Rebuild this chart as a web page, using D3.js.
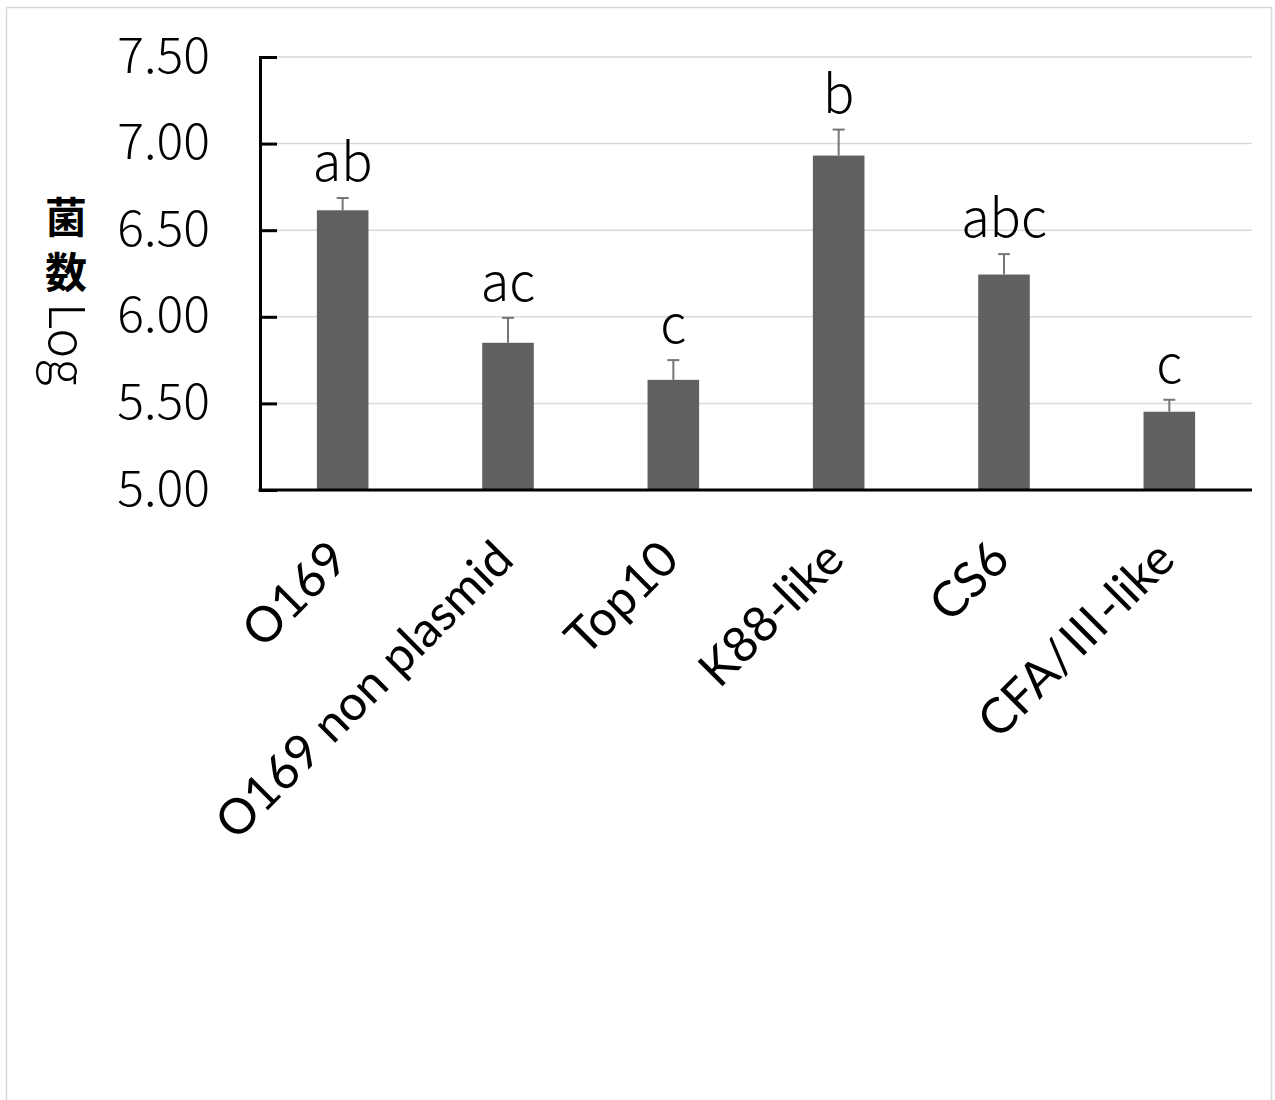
<!DOCTYPE html>
<html>
<head>
<meta charset="utf-8">
<script src="https://cdn.jsdelivr.net/npm/d3@7"></script>
<style>
  html, body { margin: 0; padding: 0; background: #fff; }
  svg { display: block; }
</style>
</head>
<body>
<svg id="chart" width="1275" height="1100"></svg>
<script>
// Strains tested
const categories = ["O169", "O169 non plasmid", "Top10", "K88-like", "CS6", "CFA/Ⅲ-like"];
// Mean bacterial count (log)
const means = [6.615, 5.850, 5.636, 6.931, 6.244, 5.452];
// Error (upper arm)
const errors = [0.071, 0.144, 0.114, 0.150, 0.118, 0.069];
// Significance letters
const letters = ["ab", "ac", "c", "b", "abc", "c"];
// Y axis ticks
const yTicks = [5.0, 5.5, 6.0, 6.5, 7.0, 7.5];

const svg = d3.select("#chart");
const thinFont = "'Noto Sans CJK JP', 'Noto Sans', sans-serif";
const labelFont = "Lato, 'Noto Sans CJK JP', sans-serif";

// outer chart frame
svg.append("rect")
  .attr("x", 6.5).attr("y", 7.5)
  .attr("width", 1265).attr("height", 1120)
  .attr("fill", "#fff")
  .attr("stroke", "#d9d9d9").attr("stroke-width", 1.5);

const plot = { left: 260, right: 1252, top: 57, bottom: 490 };

const x = d3.scaleBand()
  .domain(categories)
  .range([plot.left, plot.right])
  .paddingInner(0.688)
  .paddingOuter(0.344);

const y = d3.scaleLinear()
  .domain([5.0, 7.5])
  .range([plot.bottom, plot.top]);

// horizontal gridlines
svg.append("g")
  .selectAll("line")
  .data(yTicks.slice(1))
  .join("line")
  .attr("x1", plot.left).attr("x2", plot.right)
  .attr("y1", d => y(d)).attr("y2", d => y(d))
  .attr("stroke", "#d9d9d9").attr("stroke-width", 1.5);

// bars
svg.append("g")
  .selectAll("rect")
  .data(categories)
  .join("rect")
  .attr("x", d => x(d))
  .attr("width", x.bandwidth())
  .attr("y", (d, i) => y(means[i]))
  .attr("height", (d, i) => y(5.0) - y(means[i]))
  .attr("fill", "#606060");

// error bars (upper only)
const errG = svg.append("g").attr("stroke", "#767676").attr("stroke-width", 2);
categories.forEach((c, i) => {
  const cx = x(c) + x.bandwidth() / 2;
  errG.append("line")
    .attr("x1", cx).attr("x2", cx)
    .attr("y1", y(means[i])).attr("y2", y(means[i] + errors[i]));
  errG.append("line")
    .attr("x1", cx - 6).attr("x2", cx + 6)
    .attr("y1", y(means[i] + errors[i])).attr("y2", y(means[i] + errors[i]));
});

// significance letters above error bars
svg.append("g")
  .selectAll("text")
  .data(letters)
  .join("text")
  .attr("x", (d, i) => x(categories[i]) + x.bandwidth() / 2)
  .attr("y", (d, i) => y(means[i] + errors[i]) - 17)
  .attr("text-anchor", "middle")
  .attr("font-family", thinFont)
  .attr("font-weight", 300)
  .attr("font-size", 52)
  .attr("fill", "#000")
  .text(d => d);

// y axis with inward ticks
const yAxis = d3.axisLeft(y)
  .tickValues(yTicks)
  .tickFormat(d3.format(".2f"))
  .tickSize(-17)
  .tickPadding(50);

const yG = svg.append("g")
  .attr("transform", `translate(${plot.left},0)`)
  .call(yAxis);
yG.select(".domain").attr("stroke", "#000").attr("stroke-width", 3);
yG.selectAll(".tick line").attr("stroke", "#000").attr("stroke-width", 3);
yG.selectAll(".tick text")
  .attr("font-family", thinFont)
  .attr("font-weight", 300)
  .attr("font-size", 50)
  .attr("fill", "#000")
  .attr("dy", "0.3em");

// x axis baseline
svg.append("line")
  .attr("x1", plot.left - 1.5).attr("x2", plot.right)
  .attr("y1", plot.bottom).attr("y2", plot.bottom)
  .attr("stroke", "#000").attr("stroke-width", 3);

// rotated category labels
svg.append("g")
  .selectAll("text")
  .data(categories)
  .join("text")
  .attr("transform", d => `translate(${x(d) + x.bandwidth() / 2 + 8},562) rotate(-45)`)
  .attr("text-anchor", "end")
  .attr("font-family", labelFont)
  .attr("font-size", 49)
  .attr("fill", "#000")
  .text(d => d);

// y axis title in vertical writing: CJK upright, Latin turned sideways
const title = svg.append("text")
  .attr("x", 66).attr("y", 196)
  .attr("fill", "#000")
  .attr("font-family", thinFont)
  .style("writing-mode", "vertical-rl");
title.append("tspan")
  .attr("font-size", 42).attr("font-weight", 700)
  .style("letter-spacing", "13px")
  .text("菌");
title.append("tspan")
  .attr("font-size", 42).attr("font-weight", 700)
  .text("数 ");
title.append("tspan")
  .attr("dx", 5)
  .attr("font-size", 50).attr("font-weight", 300)
  .text("Log");
</script>
</body>
</html>
